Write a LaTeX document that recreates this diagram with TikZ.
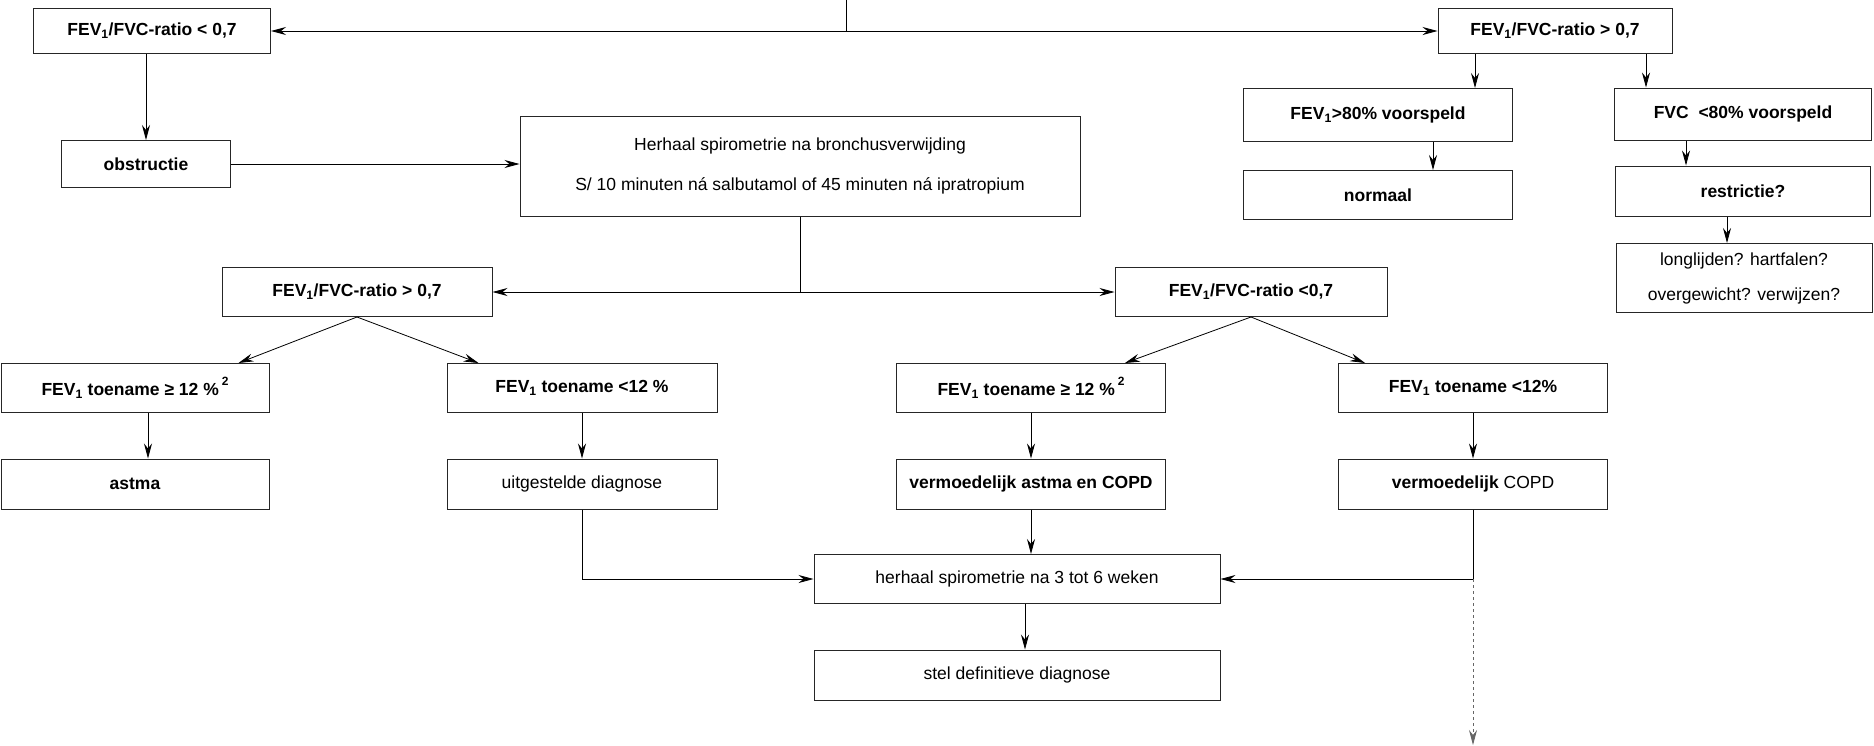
\documentclass[tikz,border=0pt]{standalone}
\usepackage{fontspec}
\setmainfont{Liberation Sans}
\usetikzlibrary{arrows.meta}

\begin{document}
\begin{tikzpicture}[x=1pt,y=-1pt,>={Stealth[length=15pt,width=8pt,inset=5pt]},
  box/.style={rectangle,draw=black!85,line width=1pt,inner sep=0pt,font=\fontsize{17.5}{20}\selectfont},
  vet/.style={box,font=\fontsize{17.5}{20}\selectfont\bfseries},
  pijl/.style={line width=0.8pt}]
\useasboundingbox (0,0) rectangle (1874,745);

\node[vet,minimum width=237pt,minimum height=45pt] (ra) at (152,31) {FEV\textsubscript{1}/FVC-ratio < 0,7};
\node[vet,minimum width=234pt,minimum height=45pt] (rb) at (1555,31) {FEV\textsubscript{1}/FVC-ratio > 0,7};
\node[vet,minimum width=169pt,minimum height=47pt] (ob) at (146,164) {obstructie};
\node[box,minimum width=560pt,minimum height=100pt,align=center] (hb) at (800,166) {Herhaal spirometrie na bronchusverwijding\\[20pt] S/ 10 minuten ná salbutamol of 45 minuten ná ipratropium};

\node[vet,minimum width=269pt,minimum height=53pt] (va) at (1378,115) {FEV\textsubscript{1}>80\% voorspeld};
\node[vet,minimum width=257pt,minimum height=52pt] (vb) at (1743,114) {FVC\ \ <80\% voorspeld};
\node[vet,minimum width=269pt,minimum height=49pt] (na) at (1378,195) {normaal};
\node[vet,minimum width=255pt,minimum height=50pt] (re) at (1743,191) {restrictie?};
\node[box,minimum width=256pt,minimum height=69pt,align=center] (lo) at (1744,278) {longlijden? hartfalen?\\[15pt] overgewicht? verwijzen?};

\node[vet,minimum width=270pt,minimum height=49pt] (ca) at (357,292) {FEV\textsubscript{1}/FVC-ratio > 0,7};
\node[vet,minimum width=272pt,minimum height=49pt] (cb) at (1251,292) {FEV\textsubscript{1}/FVC-ratio <0,7};

\node[vet,minimum width=268pt,minimum height=49pt] (ta) at (135,388) {FEV\textsubscript{1} toename ≥ 12 \%\,\raisebox{1.1ex}{\fontsize{12}{14}\selectfont 2}};
\node[vet,minimum width=270pt,minimum height=49pt] (tb) at (582,388) {FEV\textsubscript{1} toename <12 \%};
\node[vet,minimum width=269pt,minimum height=49pt] (tc) at (1031,388) {FEV\textsubscript{1} toename ≥ 12 \%\,\raisebox{1.1ex}{\fontsize{12}{14}\selectfont 2}};
\node[vet,minimum width=269pt,minimum height=49pt] (td) at (1473,388) {FEV\textsubscript{1} toename <12\%};

\node[vet,minimum width=268pt,minimum height=50pt] (da) at (135,484) {astma};
\node[box,minimum width=270pt,minimum height=50pt] (db) at (582,484) {uitgestelde diagnose};
\node[vet,minimum width=269pt,minimum height=50pt] (dc) at (1031,484) {vermoedelijk astma en COPD};
\node[box,minimum width=269pt,minimum height=50pt] (dd) at (1473,484) {\textbf{vermoedelijk} COPD};

\node[box,minimum width=406pt,minimum height=49pt] (hw) at (1017,579) {herhaal spirometrie na 3 tot 6 weken};
\node[box,minimum width=406pt,minimum height=50pt] (sd) at (1017,675) {stel definitieve diagnose};

\coordinate (top) at (846,0);
\coordinate (eind) at (1473,745);

\draw[pijl] (top) -- (top |- ra.east);
\draw[pijl,<->] (ra) -- (rb);
\draw[pijl,->] (ob.north |- ra.south) -- (ob.north);
\draw[pijl,->] (ob.east) -- (ob.east -| hb.west);

\draw[pijl,->] ([xshift=-80pt]rb.south) -- ([xshift=-80pt]rb.south |- va.north);
\draw[pijl,->] ([xshift=91pt]rb.south) -- ([xshift=91pt]rb.south |- vb.north);
\draw[pijl,->] ([xshift=55pt]va.south) -- ([xshift=55pt]na.north);
\draw[pijl,->] ([xshift=-57pt]vb.south) -- ([xshift=-57pt]re.north);
\draw[pijl,->] ([xshift=-16pt]re.south) -- ([xshift=-17pt]lo.north);

\draw[pijl] (hb.south) -- (hb.south |- ca.east);
\draw[pijl,<->] (ca) -- (cb);
\draw[pijl,->] (ca.south) -- ([xshift=-31pt]ta.north east);
\draw[pijl,->] (ca.south) -- ([xshift=32pt]tb.north west);
\draw[pijl,->] (cb.south) -- ([xshift=-41pt]tc.north east);
\draw[pijl,->] (cb.south) -- ([xshift=27pt]td.north west);

\draw[pijl,->] ([xshift=13pt]ta.south) -- ([xshift=13pt]da.north);
\draw[pijl,->] (tb) -- (db);
\draw[pijl,->] (tc) -- (dc);
\draw[pijl,->] (td) -- (dd);

\draw[pijl,->] (dc.south) -- (dc.south |- hw.north);
\draw[pijl,->] (db.south) |- (hw.west);
\draw[pijl,->] (dd.south) |- (hw.east);
\draw[pijl,->] ([xshift=8pt]hw.south) -- ([xshift=8pt]sd.north);
\draw[pijl,->,dashed,black!60] (dd.south |- hw.east) -- (eind);
\end{tikzpicture}
\end{document}
